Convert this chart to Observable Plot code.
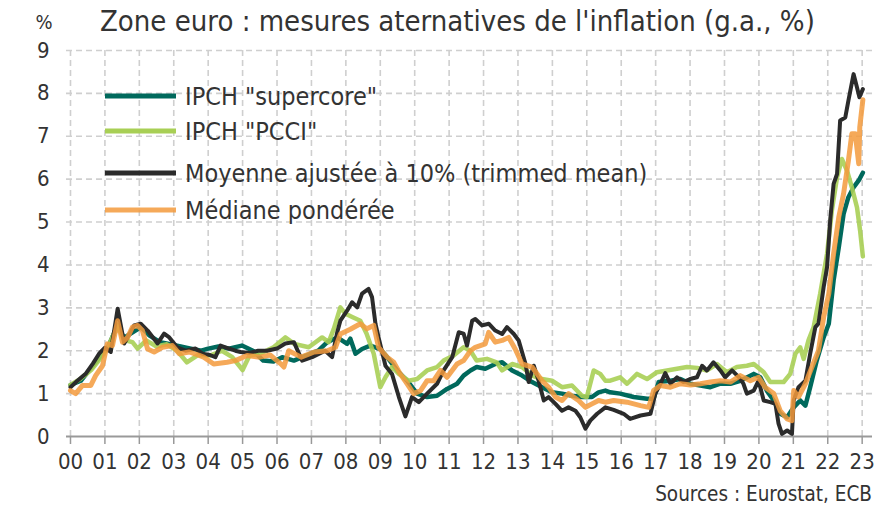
<!DOCTYPE html>
<html>
<head>
<meta charset="utf-8">
<script src="https://cdn.jsdelivr.net/npm/d3@7"></script>
<script src="https://cdn.jsdelivr.net/npm/@observablehq/plot@0.6"></script>
<style>
  html, body { margin: 0; padding: 0; background: #fff; }
  #chart { position: relative; width: 890px; height: 508px; }
</style>
</head>
<body>
<div id="chart"></div>
<script>
// ---- Data (decimal year, % y/y) ----
const title = "Zone euro : mesures aternatives de l'inflation (g.a., %)";
const source = "Sources : Eurostat, ECB";
const seriesNames = ['IPCH "supercore"', 'IPCH "PCCI"', "Moyenne ajustée à 10% (trimmed mean)", "Médiane pondérée"];
const seriesColors = ["#00695c", "#a8cf55", "#2b2b2b", "#f39a3c"];
const yearTicks = d3.range(2000, 2024);
const yTicks = d3.range(0, 10);

const supercoreT = [2000.0,2000.3,2000.6,2000.9,2001.1,2001.37,2001.55,2001.85,2002.05,2002.3,2002.6,2002.9,2003.2,2003.5,2003.8,2004.0,2004.3,2004.6,2004.98,2005.3,2005.6,2005.9,2006.15,2006.49,2006.97,2007.2,2007.46,2007.75,2008.04,2008.13,2008.28,2008.47,2008.71,2009.0,2009.2,2009.49,2009.78,2010.07,2010.36,2010.65,2010.94,2011.23,2011.42,2011.62,2011.8,2012.05,2012.34,2012.54,2012.83,2013.12,2013.41,2013.7,2013.99,2014.28,2014.57,2014.86,2015.15,2015.34,2015.54,2015.68,2015.97,2016.36,2016.75,2016.94,2017.09,2017.43,2017.72,2018.01,2018.3,2018.59,2018.88,2019.17,2019.46,2019.85,2020.04,2020.23,2020.43,2020.62,2020.82,2021.01,2021.2,2021.35,2021.49,2021.68,2021.88,2022.03,2022.17,2022.32,2022.46,2022.6,2022.75,2022.9,2023.02];
const supercoreV = [1.2,1.3,1.6,1.9,2.1,2.6,2.3,2.45,2.55,2.35,2.2,2.15,2.1,2.05,2.0,2.05,2.1,2.05,2.12,2.0,1.77,1.75,1.85,1.77,1.93,2.0,2.2,2.31,2.16,2.28,1.93,2.04,2.12,2.04,1.85,1.54,1.3,1.0,0.92,0.95,1.11,1.23,1.42,1.54,1.62,1.58,1.69,1.73,1.54,1.42,1.27,1.15,1.03,1.0,0.95,0.92,0.92,1.03,1.07,1.03,1.0,0.92,0.88,0.88,1.27,1.3,1.34,1.23,1.19,1.15,1.23,1.23,1.3,1.46,1.38,1.07,0.84,0.53,0.45,0.68,0.84,0.72,1.15,1.77,2.31,2.63,3.64,4.41,5.19,5.58,5.81,5.97,6.15];

const pcciT = [2000.0,2000.3,2000.6,2000.9,2001.1,2001.37,2001.55,2001.8,2001.95,2002.2,2002.5,2002.8,2003.1,2003.38,2003.7,2004.07,2004.4,2004.7,2005.0,2005.2,2005.5,2005.9,2006.24,2006.5,2006.92,2007.31,2007.5,2007.65,2007.84,2007.99,2008.2,2008.42,2008.6,2008.81,2009.0,2009.15,2009.34,2009.54,2009.83,2010.07,2010.36,2010.65,2010.84,2011.13,2011.42,2011.62,2011.8,2012.1,2012.38,2012.54,2012.83,2013.12,2013.41,2013.7,2013.99,2014.28,2014.57,2014.86,2015.0,2015.2,2015.39,2015.54,2015.68,2015.97,2016.17,2016.46,2016.75,2017.04,2017.33,2017.62,2017.91,2018.2,2018.49,2018.78,2019.07,2019.36,2019.65,2019.85,2020.14,2020.33,2020.72,2020.91,2021.06,2021.2,2021.3,2021.44,2021.59,2021.78,2021.98,2022.12,2022.27,2022.41,2022.56,2022.7,2022.85,2022.94,2023.02];
const pcciV = [1.2,1.35,1.55,1.85,2.1,2.6,2.25,2.2,2.05,2.24,2.1,2.15,2.0,1.73,1.9,1.89,2.0,1.85,1.55,1.89,1.93,2.08,2.31,2.16,2.08,2.31,2.2,2.51,3.01,2.86,2.78,2.7,2.4,1.93,1.15,1.38,1.62,1.46,1.3,1.34,1.54,1.62,1.77,1.89,2.08,2.0,1.77,1.81,1.73,1.54,1.69,1.62,1.42,1.34,1.3,1.15,1.19,0.95,0.92,1.54,1.46,1.3,1.3,1.38,1.23,1.46,1.34,1.5,1.54,1.58,1.62,1.6,1.54,1.69,1.5,1.62,1.65,1.69,1.5,1.27,1.27,1.46,1.93,2.08,1.81,2.24,2.55,3.33,4.26,5.27,6.04,6.47,6.2,5.81,5.34,4.8,4.2];

const trimmedT = [2000.0,2000.2,2000.45,2000.65,2000.83,2001.0,2001.17,2001.37,2001.56,2001.85,2002.04,2002.24,2002.53,2002.72,2002.87,2003.1,2003.34,2003.63,2003.83,2004.05,2004.21,2004.36,2004.5,2004.79,2004.94,2005.2,2005.45,2005.71,2006.0,2006.24,2006.49,2006.73,2007.02,2007.4,2007.6,2007.75,2007.84,2008.04,2008.18,2008.33,2008.47,2008.66,2008.76,2008.86,2008.95,2009.15,2009.34,2009.54,2009.73,2009.92,2010.12,2010.36,2010.65,2010.84,2011.09,2011.28,2011.42,2011.52,2011.67,2011.76,2011.96,2012.15,2012.34,2012.54,2012.68,2012.88,2013.02,2013.22,2013.31,2013.46,2013.6,2013.75,2013.89,2014.09,2014.28,2014.47,2014.67,2014.81,2014.96,2015.1,2015.3,2015.54,2015.78,2016.07,2016.26,2016.56,2016.85,2016.99,2017.14,2017.28,2017.43,2017.62,2017.81,2018.0,2018.2,2018.35,2018.49,2018.68,2018.88,2019.02,2019.22,2019.46,2019.55,2019.65,2019.85,2019.99,2020.14,2020.33,2020.48,2020.57,2020.67,2020.82,2020.96,2021.01,2021.15,2021.35,2021.49,2021.64,2021.73,2021.88,2021.98,2022.07,2022.17,2022.27,2022.36,2022.51,2022.6,2022.75,2022.85,2022.92,2023.02];
const trimmedV = [1.15,1.3,1.47,1.7,1.93,2.07,1.97,2.98,2.17,2.59,2.63,2.47,2.17,2.4,2.31,2.08,2.0,2.05,1.93,1.9,1.85,2.12,2.08,2.0,1.97,1.95,2.0,2.0,2.05,2.17,2.2,1.77,1.85,2.0,1.85,2.43,2.7,2.94,3.13,3.01,3.33,3.44,3.25,2.63,2.31,1.65,1.46,0.92,0.47,0.92,0.8,1.0,1.23,1.54,1.85,2.43,2.4,2.12,2.7,2.74,2.59,2.63,2.47,2.39,2.55,2.39,2.24,1.69,1.27,1.65,1.3,0.84,0.92,0.76,0.6,0.68,0.6,0.45,0.18,0.37,0.53,0.68,0.62,0.53,0.41,0.49,0.53,1.0,1.23,1.48,1.23,1.38,1.27,1.34,1.38,1.65,1.54,1.73,1.54,1.38,1.54,1.35,1.23,1.0,1.07,1.3,0.84,0.8,0.76,0.3,0.06,0.14,0.06,0.84,1.15,1.3,1.93,2.55,2.63,3.48,3.95,5.03,5.89,6.12,7.37,7.44,7.83,8.45,8.14,7.91,8.1];

const medianT = [2000.0,2000.15,2000.35,2000.59,2000.73,2000.93,2001.07,2001.22,2001.37,2001.51,2001.66,2001.8,2001.95,2002.09,2002.24,2002.43,2002.67,2002.96,2003.16,2003.45,2003.74,2003.87,2004.16,2004.55,2004.79,2005.13,2005.5,2005.8,2006.1,2006.2,2006.34,2006.7,2007.08,2007.46,2007.7,2007.84,2008.13,2008.42,2008.61,2008.81,2008.95,2009.2,2009.39,2009.58,2009.78,2009.97,2010.17,2010.36,2010.55,2010.75,2010.94,2011.23,2011.42,2011.62,2011.76,2012.05,2012.15,2012.34,2012.54,2012.73,2012.92,2013.12,2013.41,2013.7,2013.89,2014.09,2014.28,2014.47,2014.76,2014.96,2015.15,2015.34,2015.54,2015.78,2016.17,2016.56,2016.8,2016.94,2017.14,2017.43,2017.72,2018.01,2018.3,2018.59,2018.88,2019.17,2019.46,2019.75,2019.99,2020.18,2020.43,2020.62,2020.82,2020.96,2021.01,2021.15,2021.35,2021.54,2021.73,2021.88,2022.03,2022.17,2022.32,2022.46,2022.6,2022.7,2022.8,2022.9,2022.93,2023.02];
const medianV = [1.07,1.0,1.19,1.19,1.42,1.65,2.16,2.12,2.7,2.2,2.31,2.55,2.59,2.47,2.04,1.97,2.08,2.12,1.93,1.97,1.89,1.85,1.69,1.73,1.77,1.89,1.85,1.9,1.7,1.62,2.0,1.85,1.97,2.0,2.08,2.39,2.5,2.63,2.51,2.59,2.08,1.85,1.73,1.46,1.23,1.0,1.07,1.3,1.3,1.54,1.38,1.69,1.77,2.0,2.08,2.16,2.43,2.2,2.24,2.31,2.04,1.69,1.62,1.3,1.15,0.92,0.84,1.0,0.84,0.68,0.76,0.84,0.8,0.84,0.8,0.72,0.68,1.07,1.19,1.15,1.23,1.2,1.23,1.27,1.3,1.27,1.42,1.3,1.38,1.15,1.0,0.6,0.41,0.37,1.07,0.92,1.23,1.62,2.0,2.78,3.33,4.26,5.11,5.66,6.43,7.06,7.06,6.36,7.21,7.85];

// ---- build tables ----
const toRows = (T, V) => T.map((t, i) => ({t, v: V[i]}));
const rows = [
  toRows(supercoreT, supercoreV),
  toRows(pcciT, pcciV),
  toRows(trimmedT, trimmedV),
  toRows(medianT, medianV)
];
const FONT = "'DejaVu Sans Condensed', 'DejaVu Sans', sans-serif";

const plot = Plot.plot({
  width: 890,
  height: 508,
  marginTop: 50,
  marginBottom: 72,
  marginLeft: 66,
  marginRight: 18,
  style: {fontFamily: FONT, fontSize: "22px", color: "#333", background: "#fff"},
  x: {domain: [1999.884, 2023.3], ticks: yearTicks, tickFormat: d => String(d % 100).padStart(2, "0"), tickSize: 8, tickPadding: 9, label: null},
  y: {domain: [0, 9], ticks: yTicks, tickSize: 0, tickPadding: 17, label: null},
  marks: [
    Plot.ruleX(yearTicks, {stroke: "#cfcfcf", strokeWidth: 1.6, strokeDasharray: "6,4"}),
    Plot.ruleY(yTicks.filter(d => d > 0), {stroke: "#cfcfcf", strokeWidth: 1.6, strokeDasharray: "6,4"}),
    Plot.ruleY([0], {stroke: "#999", strokeWidth: 2}),
    Plot.line(rows[0], {x: "t", y: "v", stroke: seriesColors[0], strokeWidth: 4.5}),
    Plot.line(rows[1], {x: "t", y: "v", stroke: seriesColors[1], strokeWidth: 4.5, strokeOpacity: 0.9}),
    Plot.line(rows[2], {x: "t", y: "v", stroke: seriesColors[2], strokeWidth: 4}),
    Plot.line(rows[3], {x: "t", y: "v", stroke: seriesColors[3], strokeWidth: 5, strokeOpacity: 0.85})
  ]
});
document.getElementById("chart").appendChild(plot);

// axis styling
const svg = d3.select(plot);
svg.selectAll("[aria-label='x-axis'] line, [aria-label='x-axis tick'] line, [aria-label='x-axis tick']").attr("stroke", "#999").attr("stroke-width", 1.5);

// title, unit, legend, source
const addText = (x, y, size, anchor, str) =>
  svg.append("text").attr("x", x).attr("y", y).attr("text-anchor", anchor)
    .attr("font-size", size).attr("fill", "#333").attr("font-family", FONT).text(str);
addText(44, 29, 20, "middle", "%");
addText(100, 31, 29, "start", title);
addText(872, 501, 20.5, "end", source);

const legendY = [96, 131, 173, 210];
const lg = svg.append("g");
seriesNames.forEach((name, i) => {
  lg.append("line").attr("x1", 105).attr("x2", 176).attr("y1", legendY[i]).attr("y2", legendY[i])
    .attr("stroke", seriesColors[i]).attr("stroke-width", 5).attr("stroke-opacity", i === 3 ? 0.85 : 1);
  lg.append("text").attr("x", 185).attr("y", legendY[i]).attr("dy", "0.35em").attr("text-anchor", "start")
    .attr("font-size", 25).attr("fill", "#333").attr("font-family", FONT).text(name);
});
</script>
</body>
</html>
